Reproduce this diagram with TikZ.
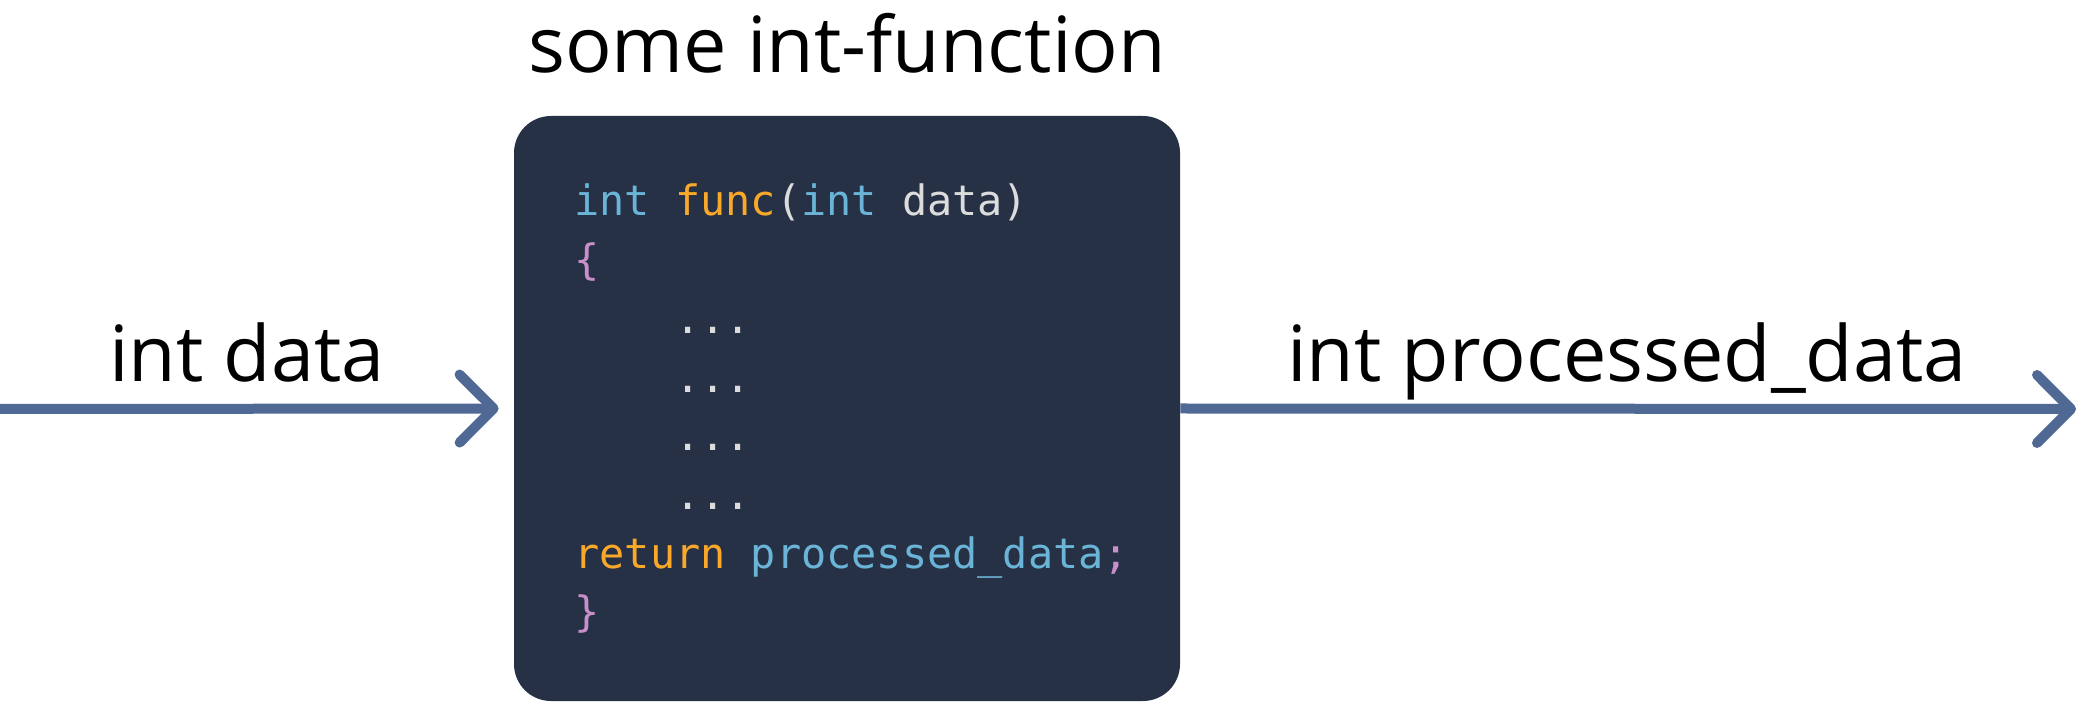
\documentclass[tikz,border=0pt]{standalone}
\usepackage{fontspec}
\setmainfont{Open Sans}
\setmonofont{DejaVu Sans Mono}
\usetikzlibrary{arrows.meta}
\definecolor{boxbg}{HTML}{263146}
\definecolor{arrowc}{HTML}{4F6894}
\definecolor{kwblue}{HTML}{6AB4D8}
\definecolor{kworange}{HTML}{F9A82A}
\definecolor{codefg}{HTML}{DCDCDC}
\definecolor{codepink}{HTML}{C98FCB}
\begin{document}
\begin{tikzpicture}[x=0.5pt,y=-0.5pt,
  lbl/.style={font=\fontsize{38.7}{46}\selectfont, inner sep=0pt, anchor=base},
  codeline/.style={font=\ttfamily\fontsize{20.93}{29}\selectfont, text=codefg, inner sep=0pt, anchor=base west},
  flow/.style={draw=arrowc, line width=5pt, -{Straight Barb[length=17pt,width=34pt,round]}}]
\useasboundingbox (0,0) rectangle (2081,704);
% function box
\node[fill=boxbg, rounded corners=18.5pt, minimum width=333pt, minimum height=292.5pt, inner sep=0pt] (box) at (847,408.5) {};
\node[lbl] (title) at (847,73) {some int-function};
% code
\node[codeline] (c1) at (574,216) {\textcolor{kwblue}{int} \textcolor{kworange}{func}(\textcolor{kwblue}{int} data)};
\node[codeline] (c2) at (574,274.7) {\textcolor{codepink}{\{}};
\node[codeline] (c3) at (674.8,333.4) {...};
\node[codeline] (c4) at (674.8,392.1) {...};
\node[codeline] (c5) at (674.8,450.8) {...};
\node[codeline] (c6) at (674.8,509.5) {...};
\node[codeline] (c7) at (574,568.2) {\textcolor{kworange}{return} \textcolor{kwblue}{processed\_data}\textcolor{codepink}{;}};
\node[codeline] (c8) at (574,626.9) {\textcolor{codepink}{\}}};
% connectors
\coordinate (start) at (0,409);
\coordinate (end) at (2076,409);
\draw[flow, shorten >=7.5pt] (start) -- (box.west);
\draw[flow] (box.east) -- (end);
\node[lbl] (inlbl) at (247,382) {int data};
\node[lbl] (outlbl) at (1627,382) {int processed\_data};
\end{tikzpicture}
\end{document}
